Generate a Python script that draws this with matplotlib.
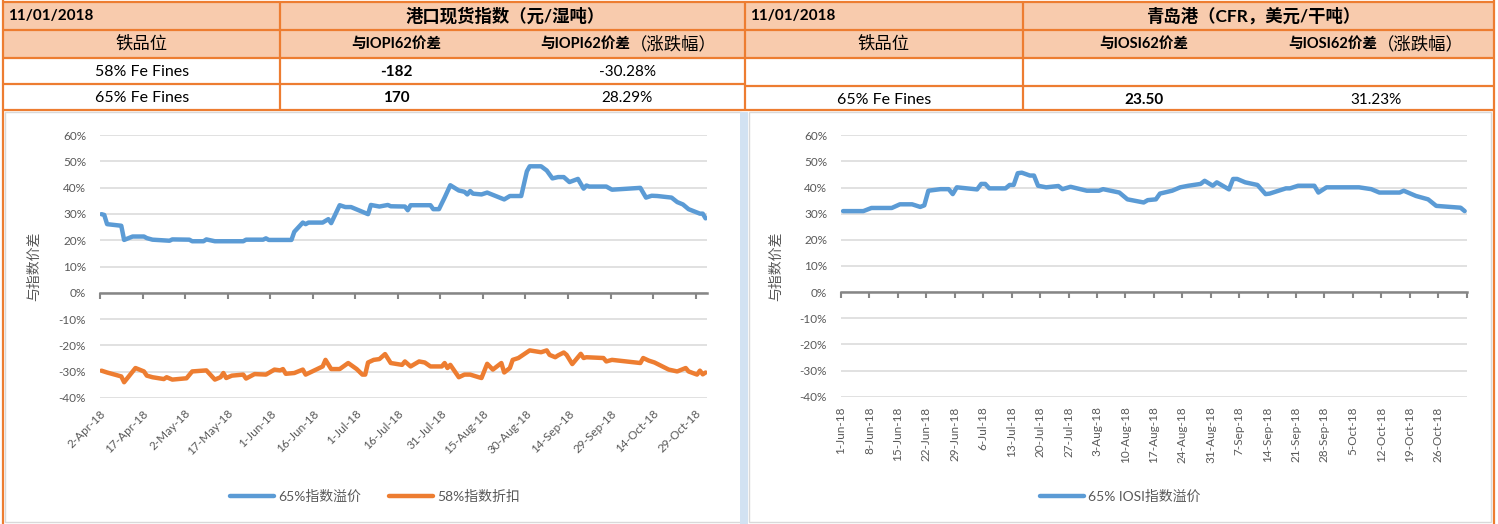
import matplotlib
matplotlib.use("Agg")
import matplotlib.pyplot as plt
import matplotlib.dates as mdates
import numpy as np
import pandas as pd
from matplotlib.patches import Rectangle
from matplotlib.lines import Line2D
from matplotlib.ticker import PercentFormatter

BLUE, ORANGE = "#5B9BD5", "#ED7D31"
PEACH, BORDER = "#F8CBAD", "#ED7D31"
GRID, AXIS, TXT = "#D9D9D9", "#868686", "#595959"

plt.rcParams["font.family"] = ["Lato", "Noto Sans CJK SC", "DejaVu Sans"]
plt.rcParams["axes.unicode_minus"] = False

# --- table header --------------------------------------------------------
TABLE_DATE = "11/01/2018"
LEFT_TITLE = "港口现货指数（元/湿吨）"
RIGHT_TITLE = "青岛港（CFR，美元/干吨）"
COL_GRADE = "铁品位"
LEFT_COLS = ["与IOPI62价差", "与IOPI62价差"]
RIGHT_COLS = ["与IOSI62价差", "与IOSI62价差"]
PCT_SUFFIX = "（涨跌幅）"
LEFT_ROWS = [("58% Fe Fines", "-182", "-30.28%"), ("65% Fe Fines", "170", "28.29%")]
RIGHT_ROWS = [("", "", ""), ("65% Fe Fines", "23.50", "31.23%")]

# --- left chart: port index premium / discount vs IOPI62 (%) ------------
P65_DATES = [
    "2018-04-02", "2018-04-03", "2018-04-04", "2018-04-09", "2018-04-10", "2018-04-13",
    "2018-04-17", "2018-04-18", "2018-04-20", "2018-04-26", "2018-04-27", "2018-05-03",
    "2018-05-04", "2018-05-08", "2018-05-09", "2018-05-12", "2018-05-22", "2018-05-23",
    "2018-05-29", "2018-05-30", "2018-05-31", "2018-06-08", "2018-06-09", "2018-06-12",
    "2018-06-13", "2018-06-14", "2018-06-19", "2018-06-21", "2018-06-22", "2018-06-25",
    "2018-06-27", "2018-06-29", "2018-07-05", "2018-07-06", "2018-07-09", "2018-07-12",
    "2018-07-13", "2018-07-18", "2018-07-19", "2018-07-20", "2018-07-27", "2018-07-28",
    "2018-07-30", "2018-08-01", "2018-08-03", "2018-08-06", "2018-08-08", "2018-08-09",
    "2018-08-10", "2018-08-11", "2018-08-14", "2018-08-16", "2018-08-22", "2018-08-24",
    "2018-08-28", "2018-08-30", "2018-08-31", "2018-09-04", "2018-09-06", "2018-09-08",
    "2018-09-10", "2018-09-12", "2018-09-14", "2018-09-17", "2018-09-19", "2018-09-20",
    "2018-09-21", "2018-09-27", "2018-09-29", "2018-10-09", "2018-10-11", "2018-10-13",
    "2018-10-15", "2018-10-20", "2018-10-22", "2018-10-24", "2018-10-26", "2018-10-30",
    "2018-10-31", "2018-11-01",
]
P65_VALS = [
    29.9, 29.6, 26.1, 25.5, 20.1, 21.4,
    21.4, 20.8, 20.2, 19.8, 20.3, 20.2,
    19.6, 19.6, 20.3, 19.6, 19.6, 20.2,
    20.2, 20.7, 20.1, 20.1, 23.2, 26.7,
    26.1, 26.7, 26.7, 28.0, 26.5, 33.3,
    32.6, 32.6, 29.9, 33.4, 32.8, 33.4,
    32.9, 32.8, 31.4, 33.3, 33.3, 31.8,
    31.8, 36.2, 40.9, 38.9, 38.4, 37.4,
    38.7, 37.7, 37.4, 38.1, 35.5, 36.8,
    36.8, 46.2, 48.1, 48.1, 46.5, 43.5,
    44.0, 44.0, 42.1, 43.3, 39.6, 40.8,
    40.4, 40.4, 39.2, 39.9, 36.2, 36.9,
    36.8, 36.2, 34.5, 33.6, 31.8, 30.1,
    30.1, 28.3,
]
P58_DATES = [
    "2018-04-02", "2018-04-04", "2018-04-09", "2018-04-10", "2018-04-14", "2018-04-17",
    "2018-04-18", "2018-04-20", "2018-04-24", "2018-04-25", "2018-04-27", "2018-05-02",
    "2018-05-04", "2018-05-09", "2018-05-12", "2018-05-14", "2018-05-15", "2018-05-16",
    "2018-05-18", "2018-05-22", "2018-05-23", "2018-05-26", "2018-05-30", "2018-06-02",
    "2018-06-04", "2018-06-05", "2018-06-06", "2018-06-09", "2018-06-12", "2018-06-13",
    "2018-06-19", "2018-06-20", "2018-06-22", "2018-06-25", "2018-06-28", "2018-07-01",
    "2018-07-03", "2018-07-04", "2018-07-05", "2018-07-07", "2018-07-09", "2018-07-11",
    "2018-07-13", "2018-07-17", "2018-07-18", "2018-07-20", "2018-07-23", "2018-07-25",
    "2018-07-27", "2018-07-31", "2018-08-01", "2018-08-02", "2018-08-03", "2018-08-06",
    "2018-08-08", "2018-08-10", "2018-08-13", "2018-08-14", "2018-08-16", "2018-08-18",
    "2018-08-21", "2018-08-22", "2018-08-24", "2018-08-25", "2018-08-27", "2018-08-31",
    "2018-09-04", "2018-09-06", "2018-09-07", "2018-09-09", "2018-09-10", "2018-09-12",
    "2018-09-13", "2018-09-15", "2018-09-18", "2018-09-19", "2018-09-20", "2018-09-26",
    "2018-09-27", "2018-09-29", "2018-10-09", "2018-10-10", "2018-10-12", "2018-10-14",
    "2018-10-19", "2018-10-22", "2018-10-25", "2018-10-26", "2018-10-29", "2018-10-30",
    "2018-10-31", "2018-11-01",
]
P58_VALS = [
    -29.6, -30.3, -31.8, -34.0, -28.6, -29.9,
    -31.5, -32.1, -32.8, -32.1, -33.0, -32.5,
    -29.9, -29.5, -33.0, -32.1, -30.5, -32.4,
    -31.5, -31.1, -32.6, -30.9, -31.1, -29.2,
    -29.5, -29.0, -30.8, -30.5, -29.2, -31.1,
    -28.0, -25.5, -29.0, -29.0, -26.7, -29.0,
    -31.1, -31.1, -26.5, -25.5, -25.2, -23.3,
    -26.7, -27.4, -26.1, -28.0, -26.1, -26.5,
    -28.0, -28.0, -26.7, -28.6, -27.4, -32.1,
    -31.1, -31.1, -32.1, -32.4, -27.0, -29.2,
    -26.7, -30.3, -28.6, -25.5, -24.8, -21.9,
    -22.6, -21.9, -23.6, -24.5, -23.8, -22.7,
    -23.6, -27.1, -23.2, -24.8, -24.5, -24.8,
    -26.1, -25.5, -26.7, -24.8, -25.8, -26.5,
    -29.2, -29.9, -28.6, -29.9, -31.1, -29.6,
    -31.0, -30.3,
]

# --- right chart: Qingdao 65% premium vs IOSI62 (%) -----------------------
Q65_DATES = [
    "2018-06-01", "2018-06-06", "2018-06-08", "2018-06-13", "2018-06-15", "2018-06-18",
    "2018-06-20", "2018-06-21", "2018-06-22", "2018-06-25", "2018-06-27", "2018-06-28",
    "2018-06-29", "2018-07-04", "2018-07-05", "2018-07-06", "2018-07-07", "2018-07-11",
    "2018-07-12", "2018-07-13", "2018-07-14", "2018-07-15", "2018-07-17", "2018-07-18",
    "2018-07-19", "2018-07-21", "2018-07-24", "2018-07-25", "2018-07-27", "2018-07-31",
    "2018-08-03", "2018-08-04", "2018-08-08", "2018-08-10", "2018-08-14", "2018-08-15",
    "2018-08-17", "2018-08-18", "2018-08-21", "2018-08-23", "2018-08-25", "2018-08-28",
    "2018-08-29", "2018-08-31", "2018-09-01", "2018-09-04", "2018-09-05", "2018-09-06",
    "2018-09-08", "2018-09-11", "2018-09-13", "2018-09-14", "2018-09-18", "2018-09-19",
    "2018-09-21", "2018-09-25", "2018-09-26", "2018-09-28", "2018-10-06", "2018-10-09",
    "2018-10-11", "2018-10-16", "2018-10-17", "2018-10-20", "2018-10-23", "2018-10-25",
    "2018-10-31", "2018-11-01",
]
Q65_VALS = [
    31.0, 31.0, 32.2, 32.2, 33.6, 33.6,
    32.6, 33.2, 38.8, 39.4, 39.4, 37.5,
    40.1, 39.3, 41.4, 41.4, 39.7, 39.7,
    41.0, 41.0, 45.5, 45.7, 44.6, 44.6,
    40.7, 40.1, 40.6, 39.4, 40.3, 38.8,
    38.8, 39.4, 38.1, 35.5, 34.3, 35.2,
    35.5, 37.7, 38.8, 40.1, 40.7, 41.4,
    42.6, 40.7, 42.0, 39.3, 43.3, 43.3,
    42.0, 41.0, 37.5, 37.7, 39.7, 39.7,
    40.7, 40.7, 38.1, 40.1, 40.1, 39.4,
    38.1, 38.1, 38.8, 36.8, 35.5, 33.0,
    32.3, 31.0,
]

LEFT_START, LEFT_END, LEFT_STEP = "2018-04-02", "2018-11-02", 15
RIGHT_START, RIGHT_END, RIGHT_STEP = "2018-06-01", "2018-11-02", 7
Y_TICKS = [-0.4, -0.3, -0.2, -0.1, 0.0, 0.1, 0.2, 0.3, 0.4, 0.5, 0.6]

W, H = 1498, 524
fig = plt.figure(figsize=(W / 100, H / 100), dpi=100)
bg = fig.add_axes([0, 0, 1, 1], zorder=0)
bg.set_xlim(0, W)
bg.set_ylim(H, 0)
bg.axis("off")


def hline(y, x0, x1, color=BORDER, lw=1.6):
    bg.plot([x0, x1], [y, y], color=color, lw=lw, solid_capstyle="butt")


def vline(x, y0, y1, color=BORDER, lw=1.6):
    bg.plot([x, x], [y0, y1], color=color, lw=lw, solid_capstyle="butt")


# chart panels
for x0, x1 in [(5, 741), (749, 1491)]:
    bg.add_patch(Rectangle((x0, 112), x1 - x0, 410, facecolor="white",
                           edgecolor="#D9D9D9", lw=1))
bg.add_patch(Rectangle((740, 112), 8, 412, facecolor="#D2E2F2", edgecolor="none"))

# table fill + grid
bg.add_patch(Rectangle((3, 3), 1491, 55, facecolor=PEACH, edgecolor="none"))
for y in [2, 30, 58, 84, 110]:
    hline(y, 3, 745)
for y in [2, 30, 58, 86, 110]:
    hline(y, 745, 1494)
vline(3, 0, H)
vline(1494, 0, H)
for x in [280, 745, 1023]:
    vline(x, 2, 110)

BIG, MID, SMALL = 12.5, 11.5, 10.5


def table(x0, mid, title, cols, rows, c2, c3, suffix_x, row_y):
    bg.text(x0 + 5, 16, TABLE_DATE, fontsize=11, fontweight="bold", va="center")
    bg.text(mid, 16, title, fontsize=BIG, fontweight="bold", va="center", ha="center")
    bg.text(x0 + 139, 44, COL_GRADE, fontsize=BIG, va="center", ha="center")
    bg.text(c2, 44, cols[0], fontsize=SMALL, fontweight="bold", va="center", ha="center")
    t = bg.text(suffix_x, 44, cols[1], fontsize=SMALL, fontweight="bold", va="center")
    bg.annotate(PCT_SUFFIX, xy=(1, 0.5), xycoords=t, fontsize=BIG, va="center")
    for (grade, diff, pct), y in zip(rows, row_y):
        bg.text(x0 + 139, y, grade, fontsize=MID, va="center", ha="center")
        bg.text(c2, y, diff, fontsize=SMALL + 0.5, fontweight="bold", va="center", ha="center")
        bg.text(c3, y, pct, fontsize=SMALL + 0.5, va="center", ha="center")


table(3, 505, LEFT_TITLE, LEFT_COLS, LEFT_ROWS, 396, 627, 540, [72, 98])
table(745, 1253, RIGHT_TITLE, RIGHT_COLS, RIGHT_ROWS, 1144, 1376, 1288, [72, 100])


def to_num(dates):
    # Excel date axis puts each point in the middle of its day slot
    return mdates.date2num(pd.to_datetime(dates)) + 0.5


def draw_chart(rect, series, start, end, step, rot, label_x):
    ax = fig.add_axes(rect, zorder=1)
    ax.set_facecolor("none")
    for dates, vals, color in series:
        ax.plot(to_num(dates), np.array(vals) / 100, color=color, lw=3.2,
                solid_joinstyle="round", solid_capstyle="round", zorder=4)
    x0, x1 = mdates.date2num(pd.to_datetime([start, end]))
    ax.set_xlim(x0, x1)
    ax.set_ylim(-0.4, 0.6)
    ax.set_yticks(Y_TICKS)
    ax.yaxis.set_major_formatter(PercentFormatter(1.0, decimals=0))
    ax.grid(axis="y", color=GRID, lw=1.1)
    ax.set_axisbelow(True)
    for side in ["top", "right", "left"]:
        ax.spines[side].set_visible(False)
    ax.spines["bottom"].set_position(("data", 0))
    ax.spines["bottom"].set_color(AXIS)
    ax.spines["bottom"].set_linewidth(1.8)
    ax.spines["bottom"].set_zorder(3)
    ax.tick_params(axis="y", length=0, pad=10, labelsize=8.5, labelcolor=TXT)

    ticks = pd.date_range(start, end, freq=f"{step}D")
    tnum = mdates.date2num(ticks)
    ax.set_xticks(tnum)
    ax.tick_params(axis="x", length=4.5, width=1.5, color=AXIS, labelbottom=False)
    labels = [f"{d.day}-{d.strftime('%b-%y')}" for d in ticks]
    if ticks[-1] == pd.Timestamp(end):
        labels[-1] = ""
    sec = ax.secondary_xaxis("bottom")
    sec.set_xticks(tnum)
    sec.set_xticklabels(labels)
    sec.spines["bottom"].set_visible(False)
    sec.tick_params(length=0, pad=7, labelsize=8.5, labelcolor=TXT)
    if rot == 45:
        plt.setp(sec.get_xticklabels(), rotation=45, ha="right", rotation_mode="anchor")
    else:
        plt.setp(sec.get_xticklabels(), rotation=90)

    ax.set_ylabel("与指数价差", fontsize=10, color=TXT)
    ax.yaxis.set_label_coords(label_x, 0.5)
    return ax


draw_chart([100 / W, 1 - 398 / H, 607 / W, 263 / H],
           [(P65_DATES, P65_VALS, BLUE), (P58_DATES, P58_VALS, ORANGE)],
           LEFT_START, LEFT_END, LEFT_STEP, 45, -0.099)
draw_chart([841 / W, 1 - 396.7 / H, 625.7 / W, 261.4 / H],
           [(Q65_DATES, Q65_VALS, BLUE)],
           RIGHT_START, RIGHT_END, RIGHT_STEP, 90, -0.094)


def legend(cx, items):
    handles = [Line2D([], [], color=c, lw=3.2, solid_capstyle="round") for c, _ in items]
    fig.legend(handles, [t for _, t in items], loc="center", ncol=len(items),
               bbox_to_anchor=(cx / W, 1 - 496 / H), frameon=False, fontsize=10,
               handlelength=3.2, handletextpad=0.3, columnspacing=2.0, labelcolor=TXT)


legend(375, [(BLUE, "65%指数溢价"), (ORANGE, "58%指数折扣")])
legend(1120, [(BLUE, "65% IOSI指数溢价")])

fig.savefig("out.png", dpi=100)
